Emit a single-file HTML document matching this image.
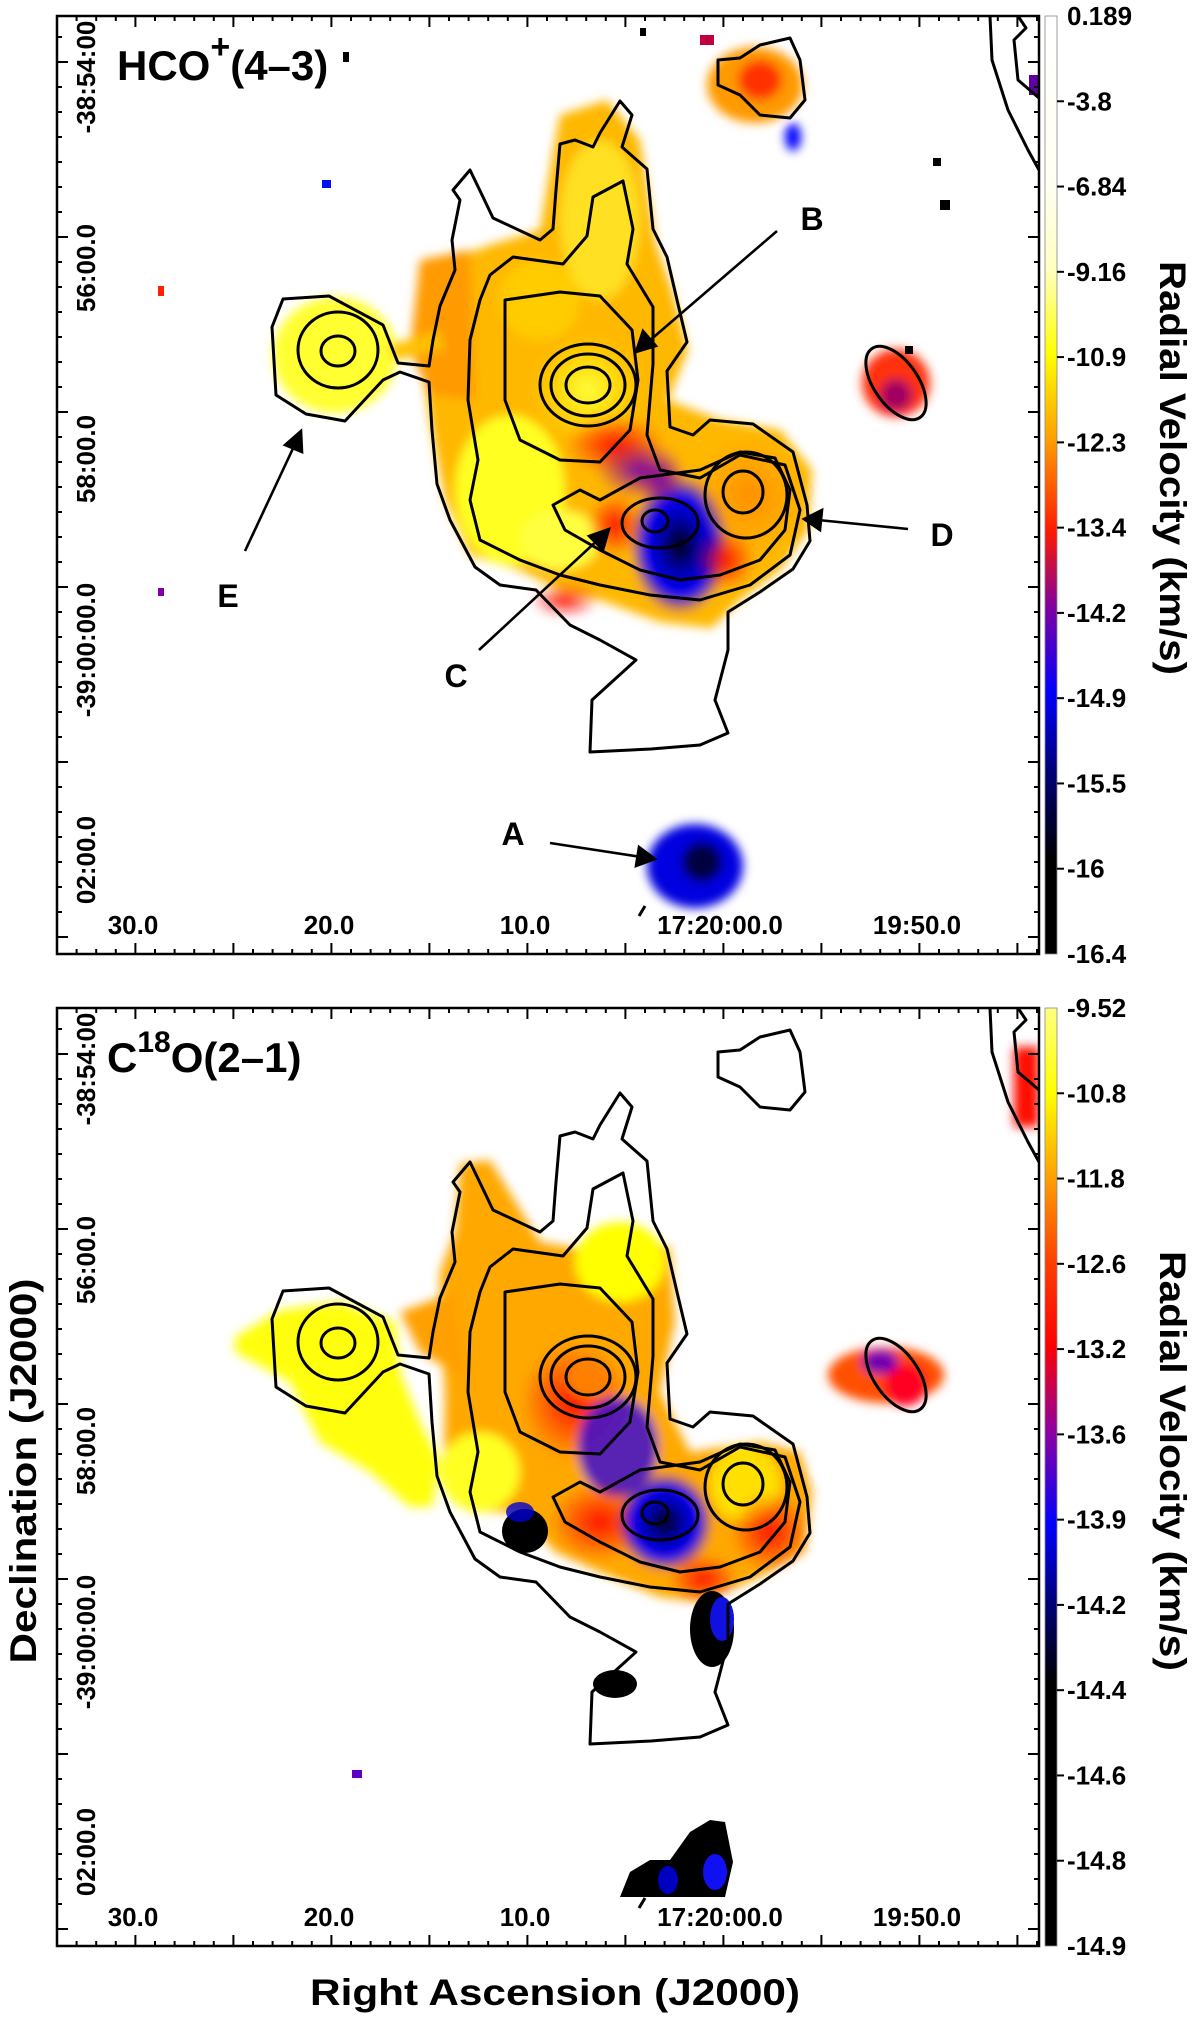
<!DOCTYPE html>
<html><head><meta charset="utf-8"><style>
html,body{margin:0;padding:0;background:#fff;}
svg{display:block;font-family:"Liberation Sans",sans-serif;font-weight:bold;}
</style></head><body>
<svg id="fig" width="1200" height="2018" viewBox="0 0 1200 2018" xmlns="http://www.w3.org/2000/svg">
<defs>
<filter id="blur" x="-20%" y="-20%" width="140%" height="140%"><feGaussianBlur stdDeviation="5"/></filter>
<clipPath id="clipP"><rect x="57" y="16" width="982" height="938"/></clipPath>
<linearGradient id="cbTop" x1="0" y1="0" x2="0" y2="1">
<stop offset="0" stop-color="#ffffff"/><stop offset="0.18" stop-color="#fffff2"/>
<stop offset="0.27" stop-color="#ffffc0"/><stop offset="0.36" stop-color="#ffff00"/>
<stop offset="0.45" stop-color="#ffa000"/><stop offset="0.55" stop-color="#ff1a00"/>
<stop offset="0.63" stop-color="#8000a0"/><stop offset="0.72" stop-color="#0000ff"/>
<stop offset="0.81" stop-color="#000070"/><stop offset="0.9" stop-color="#000000"/><stop offset="1" stop-color="#000"/>
</linearGradient>
<linearGradient id="cbBot" x1="0" y1="0" x2="0" y2="1">
<stop offset="0" stop-color="#ffff80"/><stop offset="0.09" stop-color="#ffff00"/>
<stop offset="0.18" stop-color="#ffa000"/><stop offset="0.27" stop-color="#ff4000"/>
<stop offset="0.36" stop-color="#ff0000"/><stop offset="0.45" stop-color="#9000a0"/>
<stop offset="0.55" stop-color="#0000ff"/><stop offset="0.64" stop-color="#000070"/>
<stop offset="0.72" stop-color="#000000"/><stop offset="1" stop-color="#000"/>
</linearGradient>
<radialGradient id="gYel"><stop offset="0" stop-color="#ffff40"/><stop offset="1" stop-color="#ffff00" stop-opacity="0"/></radialGradient>
<radialGradient id="gRed"><stop offset="0" stop-color="#ff1000"/><stop offset="1" stop-color="#ff1000" stop-opacity="0"/></radialGradient>
<radialGradient id="gBlue"><stop offset="0" stop-color="#000000"/><stop offset="0.35" stop-color="#0000a0"/><stop offset="0.7" stop-color="#0000ff"/><stop offset="1" stop-color="#6000c0" stop-opacity="0"/></radialGradient>
<radialGradient id="gPurp"><stop offset="0" stop-color="#7000b0"/><stop offset="1" stop-color="#a00080" stop-opacity="0"/></radialGradient>
<radialGradient id="gOra"><stop offset="0" stop-color="#ff9000"/><stop offset="1" stop-color="#ff9000" stop-opacity="0"/></radialGradient>

<g id="contours" fill="none" stroke="#000" stroke-width="3" stroke-linejoin="round">
<path d="M 440,306 L 455,270 L 452,240 L 460,200 L 453,190 L 470,170 L 483,197 L 493,218 L 540,240 L 553,229 L 556,190 L 560,144 L 575,140 L 593,147 L 600,133 L 620,101 L 632,115 L 622,147 L 647,169 L 653,229 L 667,257 L 677,300 L 687,342 L 667,371 L 670,427 L 693,435 L 710,420 L 753,424 L 793,452 L 807,505 L 810,541 L 793,569 L 760,592 L 728,612 L 728,650 L 715,700 L 728,733 L 700,745 L 651,749 L 590,752 L 592,700 L 636,660 L 600,640 L 570,625 L 536,590 L 500,585 L 475,567 L 450,520 L 437,484 L 432,430 L 429,382 L 400,372 L 383,380 L 345,421 L 306,414 L 276,395 L 272,327 L 283,299 L 329,296 L 383,325 L 398,363 L 429,366 L 433,340 Z"/>
<path d="M 490,275 L 513,257 L 563,264 L 587,236 L 593,197 L 623,181 L 633,229 L 627,264 L 653,307 L 653,364 L 647,435 L 660,470 L 700,478 L 740,455 L 785,465 L 800,510 L 790,555 L 750,585 L 700,600 L 650,595 L 600,585 L 560,575 L 520,560 L 480,540 L 470,500 L 478,460 L 468,400 L 470,340 L 480,300 Z"/>
<path d="M 505,300 L 560,292 L 600,296 L 632,330 L 638,380 L 630,430 L 600,462 L 560,460 L 520,440 L 505,400 Z"/>
<path d="M 553,505 L 580,490 L 600,500 L 640,478 L 700,470 L 740,452 L 775,458 L 790,490 L 785,530 L 760,560 L 720,575 L 680,580 L 640,570 L 600,550 L 565,530 Z"/>
<ellipse cx="588" cy="385" rx="48" ry="41"/><ellipse cx="588" cy="385" rx="37" ry="31"/><ellipse cx="588" cy="385" rx="22" ry="18"/>
<ellipse cx="660" cy="523" rx="38" ry="25"/><ellipse cx="655" cy="521" rx="13" ry="11"/>
<ellipse cx="746" cy="495" rx="41" ry="43"/><ellipse cx="743" cy="492" rx="20" ry="21"/>
<ellipse cx="338" cy="350" rx="40" ry="38"/><ellipse cx="338" cy="351" rx="17" ry="15"/>
<ellipse cx="896" cy="383" rx="22" ry="42" transform="rotate(-35 896 383)"/>
<path d="M 718,60 L 740,58 L 760,45 L 790,38 L 800,60 L 805,100 L 790,118 L 760,115 L 740,95 L 718,85 Z"/>
<path d="M 990,16 L 992,60 L 1008,110 L 1028,150 L 1039,170"/>
<path d="M 1018,16 L 1026,28 L 1014,40 L 1018,80 L 1039,98"/>
<path d="M 639,916 L 645,906"/>
</g>
</defs>

<!-- ===== TOP PANEL ===== -->
<g>
<g clip-path="url(#clipP)">
<g filter="url(#blur)">
<path fill="#ffb800" d="M 560,115 L 607,100 L 640,140 L 655,240 L 672,290 L 688,350 L 668,400 L 720,420 L 780,430 L 812,470 L 808,530 L 780,570 L 740,600 L 712,628 L 660,622 L 600,600 L 560,590 L 520,570 L 470,555 L 445,500 L 430,420 L 418,340 L 422,300 L 450,260 L 490,245 L 540,230 L 550,170 Z"/>
<path fill="#ff9a00" d="M 420,260 L 470,250 L 475,400 L 430,395 L 410,350 Z"/>
<ellipse cx="335" cy="355" rx="62" ry="58" fill="#ffff30"/>
<path fill="#ffc000" d="M 390,345 L 440,330 L 445,350 L 395,360 Z"/>
<ellipse cx="588" cy="390" rx="55" ry="55" fill="url(#gYel)"/>
<ellipse cx="600" cy="220" rx="40" ry="80" fill="#ffe020"/>
<ellipse cx="540" cy="300" rx="40" ry="40" fill="#ffcc00"/>
<ellipse cx="510" cy="490" rx="55" ry="75" fill="#ffff20"/>
<ellipse cx="560" cy="540" rx="40" ry="30" fill="#ffff40"/>
<ellipse cx="615" cy="445" rx="50" ry="30" fill="url(#gRed)"/>
<ellipse cx="640" cy="470" rx="45" ry="30" fill="url(#gPurp)"/>
<ellipse cx="615" cy="525" rx="28" ry="32" fill="url(#gRed)"/>
<ellipse cx="680" cy="545" rx="50" ry="70" fill="url(#gBlue)"/>
<ellipse cx="750" cy="495" rx="55" ry="60" fill="url(#gOra)"/>
<ellipse cx="725" cy="560" rx="30" ry="30" fill="url(#gRed)"/>
<ellipse cx="565" cy="600" rx="35" ry="18" fill="url(#gRed)"/>
<ellipse cx="660" cy="480" rx="25" ry="25" fill="url(#gPurp)"/>
<ellipse cx="755" cy="85" rx="48" ry="38" fill="#ff9a00"/>
<ellipse cx="760" cy="80" rx="22" ry="20" fill="#ff3000"/>
<ellipse cx="896" cy="383" rx="34" ry="34" fill="#ff3010"/>
<ellipse cx="896" cy="395" rx="16" ry="16" fill="#a00060"/>
<ellipse cx="695" cy="866" rx="48" ry="42" fill="#0000e0"/>
<ellipse cx="702" cy="862" rx="20" ry="20" fill="#000040"/>
<ellipse cx="793" cy="137" rx="8" ry="14" fill="#0000ff"/>
</g>
<rect x="322" y="180" width="9" height="8" fill="#0010f0"/>
<rect x="158" y="286" width="6" height="10" fill="#ff2000"/>
<rect x="1029" y="75" width="10" height="20" fill="#6000a0"/>
<rect x="343" y="52" width="6" height="10" fill="#000"/>
<rect x="933" y="158" width="8" height="8" fill="#000"/>
<rect x="940" y="200" width="10" height="10" fill="#000"/>
<rect x="905" y="346" width="8" height="8" fill="#000"/>
<rect x="158" y="588" width="6" height="8" fill="#8000a0"/>
<rect x="700" y="35" width="14" height="10" fill="#c00040"/>
<rect x="640" y="28" width="6" height="8" fill="#000"/>
<use href="#contours"/>
</g>
<g fill="#000" stroke="#000" stroke-width="2.6">
<line x1="777" y1="231" x2="648" y2="342"/><polygon points="636,352 643,331 656,346" />
<line x1="479" y1="650" x2="601" y2="537"/><polygon points="609,529 603,550 589,536"/>
<line x1="908" y1="529" x2="818" y2="520"/><polygon points="804,519 822,510 820,530"/>
<line x1="245" y1="551" x2="296" y2="442"/><polygon points="301,431 302,452 285,445"/>
<line x1="550" y1="843" x2="641" y2="857"/><polygon points="655,859 636,866 639,847"/>
</g>
<g font-size="32" text-anchor="middle">
<text x="812" y="230">B</text>
<text x="456" y="687">C</text>
<text x="942" y="546">D</text>
<text x="228" y="607">E</text>
<text x="513" y="845">A</text>
</g>
<text x="117" y="80" font-size="42">HCO<tspan font-size="34" dy="-22">+</tspan><tspan dy="22">(4–3)</tspan></text>
</g>

<!-- ===== BOTTOM PANEL ===== -->
<g>
<g transform="translate(0,992)">
<g clip-path="url(#clipP)">
<g filter="url(#blur)">
<path fill="#ffa800" d="M 460,172 L 490,168 L 540,250 L 600,260 L 640,250 L 670,255 L 675,330 L 660,400 L 690,460 L 760,450 L 800,460 L 812,500 L 805,560 L 760,585 L 700,610 L 660,605 L 600,580 L 555,560 L 520,520 L 470,520 L 444,470 L 445,400 L 440,330 L 440,280 L 455,240 Z"/>
<path fill="#ffff10" d="M 235,345 L 280,318 L 340,310 L 395,330 L 400,380 L 420,430 L 440,470 L 432,515 L 410,515 L 370,480 L 320,450 L 290,390 L 235,360 Z"/>
<path fill="#ffa000" d="M 400,320 L 455,300 L 470,390 L 420,360 Z"/>
<ellipse cx="620" cy="270" rx="45" ry="40" fill="#ffff00"/>
<ellipse cx="480" cy="480" rx="40" ry="40" fill="#ffff20"/>
<ellipse cx="575" cy="410" rx="55" ry="60" fill="url(#gRed)"/>
<ellipse cx="588" cy="386" rx="22" ry="20" fill="#ff8000"/>
<ellipse cx="618" cy="455" rx="40" ry="50" fill="#3000e0" opacity="0.8"/>
<ellipse cx="600" cy="530" rx="50" ry="40" fill="url(#gRed)"/>
<ellipse cx="665" cy="530" rx="48" ry="50" fill="url(#gBlue)"/>
<ellipse cx="745" cy="492" rx="35" ry="38" fill="#ffe000"/>
<ellipse cx="770" cy="540" rx="40" ry="40" fill="url(#gRed)"/>
<ellipse cx="703" cy="587" rx="35" ry="25" fill="url(#gRed)"/>
<ellipse cx="886" cy="383" rx="58" ry="28" fill="#ff5000"/>
<ellipse cx="905" cy="392" rx="22" ry="22" fill="#ff0020"/>
<ellipse cx="880" cy="370" rx="18" ry="12" fill="#7000b0"/>
<rect x="1014" y="55" width="25" height="80" fill="#ff1000"/>
</g>
<ellipse cx="525" cy="539" rx="23" ry="22" fill="#000"/>
<ellipse cx="520" cy="520" rx="14" ry="10" fill="#0000d0" opacity="0.8"/>
<ellipse cx="712" cy="637" rx="22" ry="38" fill="#000"/>
<ellipse cx="722" cy="627" rx="12" ry="22" fill="#1010e0"/>
<ellipse cx="615" cy="692" rx="22" ry="14" fill="#000"/>
<path d="M 620,905 L 630,880 L 650,868 L 670,868 L 690,840 L 710,828 L 725,830 L 733,870 L 725,905 Z" fill="#000"/>
<ellipse cx="715" cy="880" rx="12" ry="18" fill="#1010f0"/>
<ellipse cx="668" cy="888" rx="10" ry="14" fill="#0000c0"/>
<rect x="352" y="778" width="10" height="8" fill="#6000c0"/>
<use href="#contours"/>
</g>
</g>
<text x="107" y="1072" font-size="42">C<tspan font-size="30" dy="-20">18</tspan><tspan dy="20">O(2–1)</tspan></text>
</g>

<g id="axes"></g>
<text x="555" y="2005" font-size="37" text-anchor="middle" textLength="490" lengthAdjust="spacingAndGlyphs">Right Ascension (J2000)</text>
<text transform="translate(36,1471) rotate(-90)" font-size="37" text-anchor="middle" textLength="385" lengthAdjust="spacingAndGlyphs">Declination (J2000)</text>
<text transform="translate(1160,468) rotate(90)" font-size="37" text-anchor="middle" textLength="414" lengthAdjust="spacingAndGlyphs">Radial Velocity (km/s)</text>
<text transform="translate(1160,1461) rotate(90)" font-size="37" text-anchor="middle" textLength="420" lengthAdjust="spacingAndGlyphs">Radial Velocity (km/s)</text>
</svg>
<script>
const raLabels = ["30.0","20.0","10.0","17:20:00.0","19:50.0"];
const decLabels = ["-38:54:00","56:00.0","58:00.0","-39:00:00.0","02:00.0"];
const cbTopLabels = ["0.189","-3.8","-6.84","-9.16","-10.9","-12.3","-13.4","-14.2","-14.9","-15.5","-16","-16.4"];
const cbBotLabels = ["-9.52","-10.8","-11.8","-12.6","-13.2","-13.6","-13.9","-14.2","-14.4","-14.6","-14.8","-14.9"];
const raLabelX = [133,329,525,720,917];
const decLabelOffsets = [77,268,459,650,860];

const NS = "http://www.w3.org/2000/svg";
const axes = document.getElementById("axes");
function mk(tag, attrs, parent){const e=document.createElementNS(NS,tag);for(const k in attrs)e.setAttribute(k,attrs[k]);(parent||axes).appendChild(e);return e;}
const X0=57,X1=1039,H=938;
const panels=[{top:16,labels:cbTopLabels,grad:"cbTop",nm:"hco"},{top:1008,labels:cbBotLabels,grad:"cbBot",nm:"c18o"}];
panels.forEach(p=>{
  const Y0=p.top,Y1=p.top+H;
  const frame=mk("rect",{x:X0,y:Y0,width:X1-X0,height:H,fill:"none",stroke:"#000","stroke-width":2.5});
  
  
  let d="";
  for(let i=0;;i++){const x=37.4+i*19.6; if(x>X1)break; if(x<X0)continue; const L=(Math.round((x-133)/19.6)%5===0)?11:5; d+=`M${x},${Y1}v${-L}M${x},${Y0}v${L}`;}
  for(let i=0;;i++){const y=Y0+21+i*25; if(y>Y1)break; const L=((i-1)%7===0)?11:5; d+=`M${X0},${y}h${L}M${X1},${y}h${-L}`;}
  const tk=mk("path",{d:d,stroke:"#000","stroke-width":2,fill:"none"});
  
  
  raLabels.forEach((t,i)=>{
    const e=mk("text",{x:raLabelX[i],y:Y1-20,"font-size":26,"text-anchor":"middle"});
    e.textContent=t;
    
    
  });
  decLabels.forEach((t,i)=>{
    const yc=Y0+decLabelOffsets[i]-16;
    const e=mk("text",{transform:`translate(95,${yc}) rotate(-90)`,"font-size":26,"text-anchor":"middle"});
    e.textContent=t;
    
    
  });
  const cb=mk("rect",{x:1045,y:Y0,width:12,height:H,fill:`url(#${p.grad})`,stroke:"#888","stroke-width":0.8});
  
  
  const step=H/(p.labels.length-1);
  p.labels.forEach((t,i)=>{
    const y=Y0+i*step;
    const e=mk("text",{x:1067,y:y+9,"font-size":26});
    e.textContent=t;
    
    
    if(i>0&&i<p.labels.length-1){const l=mk("line",{x1:1057,x2:1064,y1:y,y2:y,stroke:"#000","stroke-width":2});
      
      }
  });
});
</script>
</body></html>
